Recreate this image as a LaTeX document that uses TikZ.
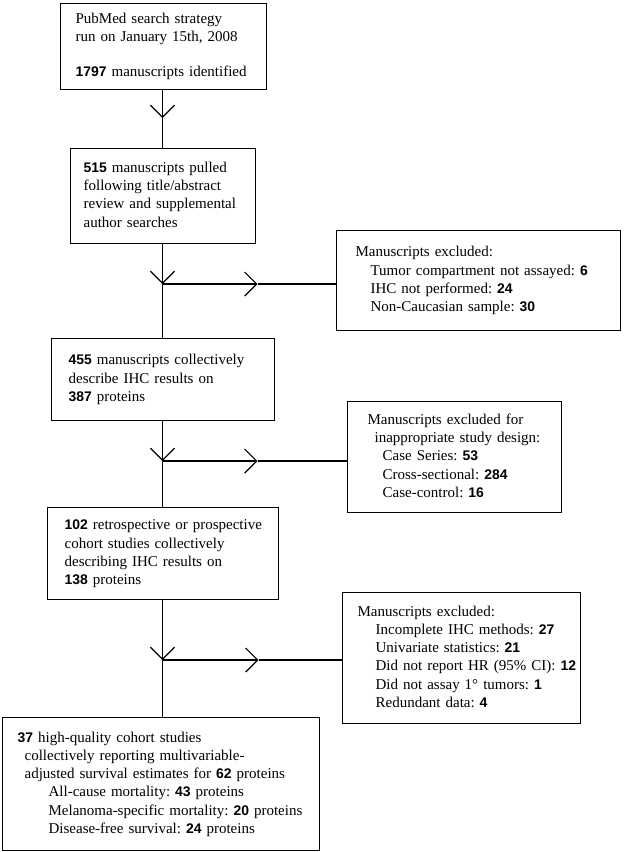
\documentclass[tikz,border=0pt]{standalone}
\usepackage{fontspec}
\setmainfont{Liberation Serif}
\newfontfamily\numfont{Liberation Sans}[Scale=0.93]
\usetikzlibrary{arrows.meta, calc}

\newcommand{\cnt}[1]{{\numfont\bfseries #1}}
\newcommand{\boxlines}[1]{\begin{tabular}{@{}l@{}}#1\end{tabular}}

\begin{document}
\begin{tikzpicture}[x=1pt, y=-1pt, line width=1.2pt, >={Straight Barb[length=12pt, width=24pt]},
    box/.style={draw, anchor=north west, align=left, inner ysep=0pt, font=\fontsize{15}{18.3}\selectfont\frenchspacing}]
    \useasboundingbox (0,0) rectangle (626,852);

    \coordinate (a01) at ( 60,  3);
    \coordinate (a02) at ( 70,148);
    \coordinate (a03) at ( 51,338);
    \coordinate (a04) at ( 47,507);
    \coordinate (a05) at (  2,717);

    \coordinate (b01) at (336,230);
    \coordinate (b02) at (347,401);
    \coordinate (b03) at (342,592);

    \coordinate (s00) at (162.5,  0);
    \coordinate (j00) at (162.5,118);
    \coordinate (j01) at (162.5,284);
    \coordinate (j02) at (162.5,461);
    \coordinate (j03) at (162.5,660);

    \coordinate (k01) at (257.5,284);
    \coordinate (k02) at (257.5,461);
    \coordinate (k03) at (258.5,660);

    \node[box, text width=176pt, inner xsep=15pt, minimum height=86pt] (src) at (a01)
        {\boxlines{PubMed search strategy\\run on January 15th, 2008\\[16.7pt]\cnt{1797} manuscripts identified}};
    \node[box, text width=159pt, inner xsep=13pt, minimum height=95pt] (pull) at (a02)
        {\boxlines{\cnt{515} manuscripts pulled\\following title/abstract\\review and supplemental\\author searches}};
    \node[box, text width=189pt, inner xsep=17pt, minimum height=82pt] (ihc) at (a03)
        {\boxlines{\cnt{455} manuscripts collectively\\describe IHC results on\\\cnt{387} proteins}};
    \node[box, text width=197pt, inner xsep=17pt, minimum height=92pt] (cohort) at (a04)
        {\boxlines{\cnt{102} retrospective or prospective\\cohort studies collectively\\describing IHC results on\\\cnt{138} proteins}};
    \node[box, text width=287pt, inner xsep=15pt, minimum height=133pt] (final) at (a05)
        {\boxlines{\cnt{37} high-quality cohort studies\\
         \hspace*{7pt}collectively reporting multivariable-\\
         \hspace*{7pt}adjusted survival estimates for \cnt{62} proteins\\
         \hspace*{31pt}All-cause mortality: \cnt{43} proteins\\
         \hspace*{31pt}Melanoma-specific mortality: \cnt{20} proteins\\
         \hspace*{31pt}Disease-free survival: \cnt{24} proteins}};

    % exclusion boxes
    \node[box, text width=246pt, inner xsep=19pt, minimum height=100pt] (excA) at (b01)
        {\boxlines{Manuscripts excluded:\\
         \hspace*{15pt}Tumor compartment not assayed: \cnt{6}\\
         \hspace*{15pt}IHC not performed: \cnt{24}\\
         \hspace*{15pt}Non-Caucasian sample: \cnt{30}}};
    \node[box, text width=174pt, inner xsep=20pt, minimum height=111pt] (excB) at (b02)
        {\boxlines{Manuscripts excluded for\\
         \hspace*{7pt}inappropriate study design:\\
         \hspace*{15pt}Case Series: \cnt{53}\\
         \hspace*{15pt}Cross-sectional: \cnt{284}\\
         \hspace*{15pt}Case-control: \cnt{16}}};
    \node[box, text width=208pt, inner xsep=15pt, minimum height=131pt] (excC) at (b03)
        {\boxlines{Manuscripts excluded:\\
         \hspace*{18pt}Incomplete IHC methods: \cnt{27}\\
         \hspace*{18pt}Univariate statistics: \cnt{21}\\
         \hspace*{18pt}Did not report HR (95\% CI): \cnt{12}\\
         \hspace*{18pt}Did not assay 1° tumors: \cnt{1}\\
         \hspace*{18pt}Redundant data: \cnt{4}}};

    \draw[->] (src.south -| s00) -- (j00);
    \draw (j00) -- (pull.north -| s00);

    \draw[->] (pull.south -| s00) -- (j01);
    \draw (j01) -- (ihc.north -| s00);
    \draw[->] (j01) -- (k01);
    \draw (k01) -- (excA.west |- j01);

    \draw[->] (ihc.south -| s00) -- (j02);
    \draw (j02) -- (cohort.north -| s00);
    \draw[->] (j02) -- (k02);
    \draw (k02) -- (excB.west |- j02);

    \draw[->] (cohort.south -| s00) -- (j03);
    \draw (j03) -- (final.north -| s00);
    \draw[->] (j03) -- (k03);
    \draw (k03) -- (excC.west |- j03);
\end{tikzpicture}
\end{document}
